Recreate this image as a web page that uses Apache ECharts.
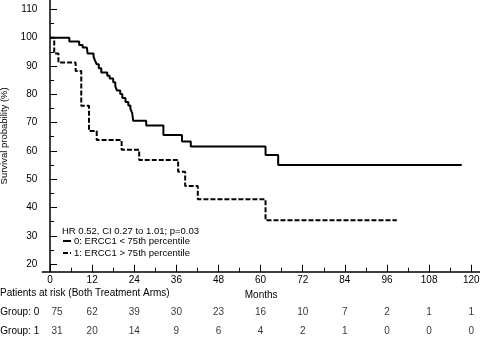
<!DOCTYPE html>
<html>
<head>
<meta charset="utf-8">
<script src="https://cdn.jsdelivr.net/npm/echarts@6/dist/echarts.min.js"></script>
<style>
  html, body { margin: 0; padding: 0; background: #fff; }
  #chart { width: 480px; height: 340px; }
</style>
</head>
<body>
<div id="chart"></div>
<script>
  // Kaplan-Meier steps: [months, survival %]
  const group0 = [
    [0, 100], [5.5, 98.6], [8.3, 97.4], [9.3, 96.5], [10.5, 95.8], [10.7, 94.4],
    [12.4, 93.3], [12.8, 92.0], [13.3, 90.6], [13.9, 89.2], [14.6, 87.7], [16.3, 86.5],
    [17.0, 85.6], [18.0, 84.2], [18.6, 82.8], [19.1, 81.3], [20.0, 80.1], [20.6, 78.7],
    [21.5, 77.3], [22.3, 76.0], [22.9, 74.8], [23.4, 73.4], [23.7, 70.6], [27.4, 69.0],
    [32.3, 65.6], [37.6, 63.3], [40.1, 61.5], [61.4, 58.5], [65.0, 55.0], [117.3, 55.0]
  ]
  const group1 = [
    [0, 100], [1.2, 94.4], [2.4, 91.2], [7.3, 88.2], [8.9, 75.9], [11.1, 67.0],
    [13.3, 63.8], [20.4, 60.4], [25.4, 56.8], [36.5, 52.6], [38.5, 47.6], [42.1, 42.9],
    [61.4, 35.5], [98.8, 35.5]
  ]
  const seriesNames = ['0: ERCC1 < 75th percentile', '1: ERCC1 > 75th percentile']
  const hrText = 'HR 0.52, CI 0.27 to 1.01; p=0.03'

  // axis ticks
  const xMajor = [0, 12, 24, 36, 48, 60, 72, 84, 96, 108, 120]
  const xMinor = [6, 18, 30, 42, 54, 66, 78, 90, 102, 114]
  const yMajor = [20, 30, 40, 50, 60, 70, 80, 90, 100, 110]
  const yMinor = [25, 35, 45, 55, 65, 75, 85, 95, 105]

  // patients at risk table
  const riskMonths = [0, 12, 24, 36, 48, 60, 72, 84, 96, 108, 120]
  const riskRows = ['Group: 0', 'Group: 1']
  const riskGroup0 = [75, 62, 39, 30, 23, 16, 10, 7, 2, 1, 1]
  const riskGroup1 = [31, 20, 14, 9, 6, 4, 2, 1, 0, 0, 0]

  const font = 'Liberation Sans, Arial, sans-serif'
  const xMin = -2.2, xMax = 122.5
  const ink = '#000'

  function riskSeries(values, row) {
    return {
      type: 'scatter',
      xAxisIndex: 2,
      yAxisIndex: 2,
      symbolSize: 0,
      silent: true,
      data: riskMonths.map((m, i) => {
        const item = { value: [m, row, values[i]] }
        // first column sits a little to the right of the month-0 tick
        if (i === 0) item.label = { offset: [7, 0] }
        return item
      }),
      label: {
        show: true,
        position: 'inside',
        formatter: p => p.value[2],
        color: ink,
        fontSize: 10,
        fontFamily: font
      }
    }
  }

  const chart = echarts.init(document.getElementById('chart'))
  chart.setOption({
    animation: false,
    grid: [
      { left: 42.3, right: 0, top: 0, bottom: 68.3, outerBoundsMode: 'none', containLabel: false },
      { left: 42.3, right: 0, top: 303, height: 37, outerBoundsMode: 'none', containLabel: false }
    ],
    legend: {
      data: seriesNames,
      orient: 'vertical',
      left: 57,
      top: 231,
      itemWidth: 8,
      itemHeight: 6,
      itemGap: 2,
      itemStyle: { opacity: 0 },
      textStyle: { fontSize: 9.5, color: ink, fontFamily: font, padding: [0, 0, 0, -2] }
    },
    graphic: [
      {
        type: 'text', left: 62, top: 226,
        style: { text: hrText, fontSize: 9.5, fill: ink, fontFamily: font }
      },
      {
        type: 'text', left: 0, top: 288,
        style: { text: 'Patients at risk (Both Treatment Arms)', fontSize: 10, fill: ink, fontFamily: font }
      }
    ],
    xAxis: [
      {
        gridIndex: 0, type: 'value', min: xMin, max: xMax,
        axisLine: { lineStyle: { color: ink, width: 1.5 } },
        axisTick: { inside: true, length: 7, customValues: xMajor, lineStyle: { color: ink } },
        axisLabel: { customValues: xMajor, color: ink, fontSize: 10, fontFamily: font, margin: 4 },
        splitLine: { show: false },
        name: 'Months', nameLocation: 'middle', nameGap: 17,
        nameTextStyle: { color: ink, fontSize: 10, fontFamily: font }
      },
      {
        gridIndex: 0, type: 'value', min: xMin, max: xMax, position: 'bottom',
        axisLine: { show: false },
        axisTick: { inside: true, length: 4, customValues: xMinor, lineStyle: { color: ink } },
        axisLabel: { show: false },
        splitLine: { show: false }
      },
      { gridIndex: 1, type: 'value', min: xMin, max: xMax, show: false }
    ],
    yAxis: [
      {
        gridIndex: 0, type: 'value', min: 17.3, max: 113.3, position: 'left',
        axisLine: { show: true, lineStyle: { color: ink, width: 1.5 } },
        axisTick: { show: true, inside: true, length: 7, customValues: yMajor, lineStyle: { color: ink } },
        axisLabel: { customValues: yMajor, color: ink, fontSize: 10, fontFamily: font, margin: 5 },
        splitLine: { show: false },
        name: 'Survival probability (%)', nameLocation: 'middle', nameGap: 21,
        nameTextStyle: { color: ink, fontSize: 9.5, fontFamily: font }
      },
      {
        gridIndex: 0, type: 'value', min: 17.3, max: 113.3, position: 'left',
        axisLine: { show: false },
        axisTick: { show: true, inside: true, length: 4, customValues: yMinor, lineStyle: { color: ink } },
        axisLabel: { show: false },
        splitLine: { show: false }
      },
      {
        gridIndex: 1, type: 'category', data: riskRows, inverse: true,
        axisLine: { show: false },
        axisTick: { show: false },
        axisLabel: { align: 'left', margin: 42, color: ink, fontSize: 10, fontFamily: font }
      }
    ],
    series: [
      {
        name: seriesNames[0],
        type: 'line',
        step: 'end',
        data: group0,
        symbol: 'none',
        lineStyle: { color: ink, width: 2 },
        itemStyle: { color: ink }
      },
      {
        name: seriesNames[1],
        type: 'line',
        step: 'end',
        data: group1,
        symbol: 'none',
        lineStyle: { color: ink, width: 2, type: [5, 2] },
        itemStyle: { color: ink }
      },
      riskSeries(riskGroup0, riskRows[0]),
      riskSeries(riskGroup1, riskRows[1])
    ]
  })
</script>
</body>
</html>
